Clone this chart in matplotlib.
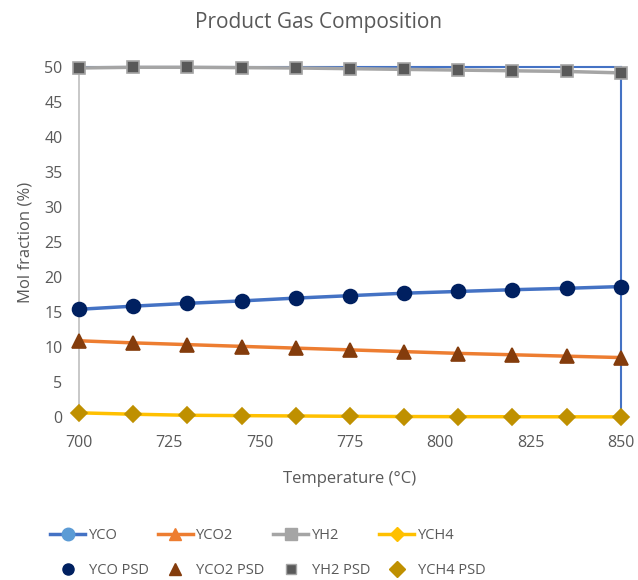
import matplotlib
matplotlib.use("Agg")
import matplotlib.pyplot as plt
from matplotlib.lines import Line2D

plt.rcParams['font.family'] = ['Open Sans', 'DejaVu Sans']

temperature = [700, 715, 730, 745, 760, 775, 790, 805, 820, 835, 850]
yco = [15.4, 15.85, 16.25, 16.6, 17.0, 17.35, 17.7, 17.95, 18.2, 18.4, 18.65]
yco2 = [10.9, 10.6, 10.35, 10.1, 9.85, 9.6, 9.35, 9.1, 8.9, 8.7, 8.5]
yh2 = [49.9, 50.0, 50.0, 49.95, 49.9, 49.8, 49.7, 49.6, 49.5, 49.4, 49.2]
ych4 = [0.6, 0.4, 0.25, 0.2, 0.15, 0.1, 0.07, 0.05, 0.04, 0.03, 0.02]

yco_psd = [15.4, 15.85, 16.25, 16.6, 17.0, 17.35, 17.7, 17.95, 18.2, 18.4, 18.65]
yco2_psd = [10.9, 10.6, 10.3, 10.05, 9.8, 9.55, 9.3, 9.05, 8.85, 8.7, 8.5]
yh2_psd = [49.9, 50.0, 50.0, 49.95, 49.9, 49.8, 49.7, 49.6, 49.5, 49.4, 49.2]
ych4_psd = [0.6, 0.4, 0.25, 0.2, 0.15, 0.1, 0.07, 0.05, 0.04, 0.03, 0.02]

xticks = [700, 725, 750, 775, 800, 825, 850]
yticks = [0, 5, 10, 15, 20, 25, 30, 35, 40, 45, 50]

txt = '#595959'
fig = plt.figure(figsize=(6.38, 5.8), dpi=100)
ax = fig.add_axes([0.124, 0.281, 0.849, 0.603])

line_specs = [
    (yco, 'YCO', '#4472C4', '#5B9BD5', 'o', 7),
    (yco2, 'YCO2', '#ED7D31', '#ED7D31', '^', 7),
    (yh2, 'YH2', '#A5A5A5', '#A5A5A5', 's', 7),
    (ych4, 'YCH4', '#FFC000', '#FFC000', 'D', 6),
]
psd_specs = [
    (yco_psd, 'YCO PSD', '#002060', '#002060', 'o', 10),
    (yco2_psd, 'YCO2 PSD', '#843C0C', '#843C0C', '^', 10),
    (yh2_psd, 'YH2 PSD', '#595959', '#A5A5A5', 's', 8),
    (ych4_psd, 'YCH4 PSD', '#BF9000', '#BF9000', 'D', 8),
]

handles = []
for (yv, lab, lc, mc, mk, ms), (pv, plab, fc, ec, pmk, pms) in zip(line_specs, psd_specs):
    ax.plot(temperature, yv, color=lc, lw=2.5, marker=mk, ms=ms,
            mfc=mc, mec=mc, clip_on=False, zorder=3)
    ax.plot(temperature, pv, ls='none', marker=pmk, ms=pms,
            mfc=fc, mec=ec, mew=1.2, clip_on=False, zorder=4)
    handles.append(Line2D([], [], color=lc, lw=2.5, marker=mk, ms=9 if mk != 'D' else 7,
                          mfc=mc, mec=mc, label=lab))
    handles.append(Line2D([], [], ls='none', marker=pmk, ms=8 if pmk != 's' else 7,
                          mfc=fc, mec=ec, mew=1.0, label=plab))

ax.set_xlim(700, 850)
ax.set_ylim(0, 50)
ax.set_xticks(xticks)
ax.set_yticks(yticks)
ax.tick_params(axis='x', length=0, labelsize=11.5, labelcolor=txt, pad=13)
ax.tick_params(axis='y', length=0, labelsize=11.5, labelcolor=txt, pad=12)

ax.spines['left'].set_color('#BFBFBF')
ax.spines['left'].set_linewidth(1.2)
ax.spines['top'].set_color('#4472C4')
ax.spines['top'].set_linewidth(1.5)
ax.spines['right'].set_color('#4472C4')
ax.spines['right'].set_linewidth(1.5)
ax.spines['bottom'].set_visible(False)

ax.set_xlabel('Temperature (°C)', fontsize=12, color=txt, labelpad=14)
ax.set_ylabel('Mol fraction (%)', fontsize=12, color=txt, labelpad=8)
fig.text(0.5, 0.962, 'Product Gas Composition', ha='center', va='center',
         fontsize=15, color=txt)

fig.legend(handles=handles, labels=[h.get_label() for h in handles],
           ncol=4, loc='lower center', bbox_to_anchor=(0.42, -0.02),
           frameon=False, fontsize=10.5, labelcolor=txt, handlelength=2.4,
           columnspacing=0.6, handletextpad=0.25, labelspacing=1.4)

fig.savefig('out.png', dpi=100)
